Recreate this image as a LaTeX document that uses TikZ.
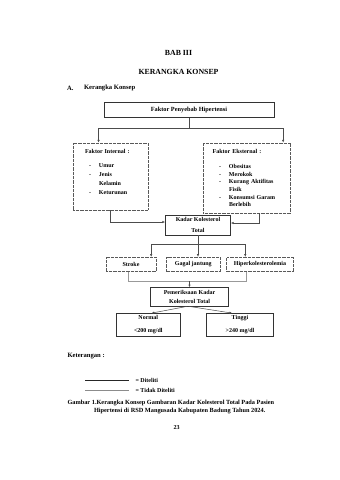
\documentclass[tikz,border=0pt]{standalone}
\usepackage{fontspec}
\setmainfont{Liberation Serif}
\usetikzlibrary{arrows.meta, positioning, calc}
\newcommand{\dashitem}[1]{\hspace*{#1}\makebox[10pt][l]{-}}

\begin{document}
\begin{tikzpicture}[
	x=1pt, y=-1pt,
	font=\bfseries\fontsize{6}{7.2}\selectfont,
	>={Latex[length=2.6pt,width=2.4pt]},
	solidbox/.style={draw=black!80, line width=0.5pt, align=center, inner sep=0pt},
	dotbox/.style={draw=black!65, line width=0.9pt, dash pattern=on 0.6pt off 0.7pt, align=center, inner sep=0pt},
	link/.style={draw=black!70, line width=0.5pt},
	softlink/.style={draw=black!40, line width=0.5pt},
	heading/.style={font=\bfseries\fontsize{7.8}{9}\selectfont},
	body/.style={font=\bfseries\fontsize{6.6}{8}\selectfont, anchor=west}
	]
	
	\useasboundingbox (0,0) rectangle (340,480);
	
	% --------------------------------------------------
	% Page heading
	% --------------------------------------------------
	\node[heading] (bab) at (178.5,53.3) {BAB III};
	\node[heading] (judul) at (178.5,71.7) {KERANGKA KONSEP};
	\node[body] (subA) at (63.5,88.3) {A.};
	\node[body] (subjudul) at (80.5,88.3) {Kerangka Konsep};
	
	% ==================================================
	% Faktor penyebab
	% ==================================================
	\node[solidbox, minimum width=170, minimum height=15, font=\bfseries\fontsize{6.3}{7.5}\selectfont]
	(penyebab) at (189,110.2) {Faktor Penyebab Hipertensi};
	
	\node[dotbox, minimum width=75, minimum height=67, text width=51, align=left]
	(internal) at (110.5,176.5)
	{Faktor Internal :\\[7pt]
		\dashitem{4pt}Umur\\[2pt]
		\dashitem{4pt}Jenis\\[2pt]
		\hspace*{14pt}Kelamin\\[2pt]
		\dashitem{4pt}Keturunan\\[2pt]
		\mbox{}};
	
	\node[dotbox, minimum width=87.4, minimum height=70, text width=68.6, align=left]
	(eksternal) at (247,178)
	{Faktor Eksternal :\\[7.8pt]
		\dashitem{6.3pt}Obesitas\\[0.5pt]
		\dashitem{6.3pt}Merokok\\[0.5pt]
		\dashitem{6.3pt}Kurang Aktifitas\\[0.5pt]
		\hspace*{16.3pt}Fisik\\[0.5pt]
		\dashitem{6.3pt}Konsumsi Garam\\[0.5pt]
		\hspace*{16.3pt}Berlebih};
	
	\draw[link] (penyebab.south) -- ++(0,10) coordinate (split);
	\draw[link, ->] (split) -| ($(internal.north west)+(26,0)$);
	\draw[link, ->] (split) -| ($(eksternal.north east)+(-8,0)$);
	
	% ==================================================
	% Kadar kolesterol total
	% ==================================================
	\node[solidbox, minimum width=65.4, minimum height=20]
	(kadar) at (198,225) {Kadar Kolesterol\\[4.5pt]Total};
	
	\draw[link, ->] (internal.south) |- ($(kadar.west)+(0,-3)$);
	\draw[link, ->] ($(eksternal.south)+(12,0)$) |- ($(kadar.east)+(0,-2)$);
	
	% --------------------------------------------------
	% Akibat
	% --------------------------------------------------
	\node[dotbox, minimum width=50, minimum height=14.5] (stroke) at (131,264.5) {Stroke};
	\node[dotbox, minimum width=53.3, minimum height=14.5] (gagal) at (193.3,264.5) {Gagal jantung};
	\node[dotbox, minimum width=66.6, minimum height=14.5] (hiper) at (260,264.5) {Hiperkolesterolemia};
	
	\draw[link] (kadar.south) -- ++(0,9) coordinate (branch);
	\draw[link, ->] (branch) -| ($(stroke.north east)+(-5.3,0)$);
	\draw[link, ->] (branch) -- (branch |- gagal.north);
	\draw[link, ->] (branch) -| ($(hiper.north west)+(19,0)$);
	
	% ==================================================
	% Pemeriksaan
	% ==================================================
	\node[solidbox, minimum width=77.6, minimum height=18.7]
	(periksa) at (189.5,296.7) {Pemeriksaan Kadar\\[1.8pt]Kolesterol Total};
	
	\draw[softlink] ($(stroke.south)+(-3,0)$) -- ++(0,9) coordinate (merge)
	-| ($(hiper.south west)+(20,0)$);
	\draw[link, ->] (merge -| periksa.north) -- (periksa.north);
	
	\node[solidbox, minimum width=63.3, minimum height=22.7]
	(normal) at (148.3,324.7) {Normal\\[5.8pt]\textless200 mg/dl};
	\node[solidbox, minimum width=66.6, minimum height=22.7]
	(tinggi) at (240,324.7) {Tinggi\\[5.8pt]\textgreater240 mg/dl};
	
	\draw[link, ->] ($(periksa.south)+(-2,0)$) -- ($(normal.north)+(3.4,0)$);
	\draw[link, ->] ($(periksa.south)+(-1,0)$) -- ($(tinggi.north)+(-8,0)$);
	
	% ==================================================
	% Keterangan
	% ==================================================
	\node[body] (ket) at (64,355.7) {Keterangan :};
	
	\coordinate (leg1) at (85,380);
	\coordinate (leg2) at (85,390);
	\draw[black!85, line width=0.6pt] (leg1) -- ++(43.5,0) coordinate (leg1e);
	\draw[black!45, line width=0.4pt] (leg2) -- ++(43.5,0) coordinate (leg2e);
	\node[anchor=west, font=\bfseries\fontsize{6}{7.2}\selectfont] (diteliti) at ($(leg1e)+(3.5,0)$) {= Diteliti};
	\node[anchor=west, font=\bfseries\fontsize{6}{7.2}\selectfont] (tidak) at ($(leg2e)+(3.5,0)$) {= Tidak Diteliti};
	
	\node[body, font=\bfseries\fontsize{6.3}{7.5}\selectfont] (cap1) at (64,403.3)
	{Gambar 1.Kerangka Konsep Gambaran Kadar Kolesterol Total Pada Pasien};
	\node[body, font=\bfseries\fontsize{6.3}{7.5}\selectfont] (cap2) at (90.5,411.3)
	{Hipertensi di RSD Mangusada Kabupaten Badung Tahun 2024.};
	
	\node[font=\bfseries\fontsize{6}{7.2}\selectfont] (hal) at (176.5,427.5) {23};
	
\end{tikzpicture}
\end{document}
